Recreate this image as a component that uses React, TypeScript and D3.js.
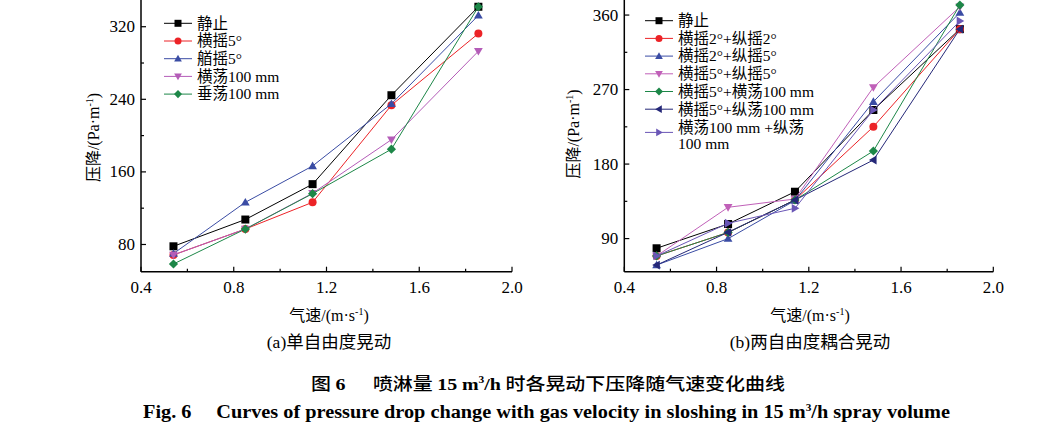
import React from "react";
import * as d3 from "d3";

// ---------- data ----------
const xVals = [0.54, 0.85, 1.14, 1.48, 1.855];

const leftNames = ["静止", "横摇5°", "艏摇5°", "横荡100 mm", "垂荡100 mm"];
const leftStill = [78, 107.5, 146.5, 244.5, 342];
const leftRoll5 = [68.5, 97, 126.5, 233.5, 312.5];
const leftYaw5 = [70, 126.5, 166.5, 235, 332.5];
const leftSway100 = [68.5, 97, 136.5, 195.5, 293];
const leftHeave100 = [58.5, 97, 136, 185, 342];

const rightNames = [
  "静止",
  "横摇2°+纵摇2°",
  "横摇2°+纵摇5°",
  "横摇5°+纵摇5°",
  "横摇5°+横荡100 mm",
  "横摇5°+纵荡100 mm",
  "横荡100 mm +纵荡|100 mm",
];
const rightStill = [78.3, 107.6, 146.6, 245.3, 343];
const rightR2P2 = [69, 97.4, 136.6, 225.1, 343];
const rightR2P5 = [58, 89.9, 136, 255.3, 363];
const rightR5P5 = [69, 127.8, 137.8, 272.7, 370];
const rightR5S100 = [69, 97.4, 136.6, 195.8, 372.1];
const rightR5Surge100 = [58, 97.6, 136.6, 184.9, 343];
const rightS100Surge100 = [69, 108.5, 126.6, 245.3, 352.8];

const xTicks = [0.4, 0.8, 1.2, 1.6, 2.0];
const xMinor = [0.6, 1.0, 1.4, 1.8];
const leftYTicks = [80, 160, 240, 320];
const leftYMinor = [120, 200, 280];
const rightYTicks = [90, 180, 270, 360];
const rightYMinor = [135, 225, 315];

// ---------- styles ----------
type Shape = "square" | "circle" | "up" | "down" | "diamond" | "left" | "right";
const leftStyles: { color: string; shape: Shape }[] = [
  { color: "#000000", shape: "square" },
  { color: "#ec2327", shape: "circle" },
  { color: "#3a4ca4", shape: "up" },
  { color: "#b45cb8", shape: "down" },
  { color: "#1d8748", shape: "diamond" },
];
const rightStyles: { color: string; shape: Shape }[] = [
  { color: "#000000", shape: "square" },
  { color: "#ec2327", shape: "circle" },
  { color: "#3a4ca4", shape: "up" },
  { color: "#c060b8", shape: "down" },
  { color: "#1d8748", shape: "diamond" },
  { color: "#252878", shape: "left" },
  { color: "#6a56b6", shape: "right" },
];

const SERIF = "'Liberation Serif', 'Times New Roman', serif";
const CJK = "'Noto Sans CJK SC', sans-serif";

function markerPath(shape: Shape, s: number): string {
  const h = s / 2;
  switch (shape) {
    case "square":
      return `M${-h},${-h}H${h}V${h}H${-h}Z`;
    case "circle":
      return `M${h},0A${h},${h} 0 1,1 ${-h},0A${h},${h} 0 1,1 ${h},0Z`;
    case "up":
      return `M0,${-h * 1.1}L${h * 1.1},${h * 0.8}L${-h * 1.1},${h * 0.8}Z`;
    case "down":
      return `M0,${h * 1.1}L${h * 1.1},${-h * 0.8}L${-h * 1.1},${-h * 0.8}Z`;
    case "left":
      return `M${-h * 1.1},0L${h * 0.8},${-h * 1.1}L${h * 0.8},${h * 1.1}Z`;
    case "right":
      return `M${h * 1.1},0L${-h * 0.8},${-h * 1.1}L${-h * 0.8},${h * 1.1}Z`;
    case "diamond":
      return `M0,${-h * 1.15}L${h * 1.15},0L0,${h * 1.15}L${-h * 1.15},0Z`;
  }
}

interface PanelProps {
  x0: number;
  x1: number;
  yDomain: [number, number];
  yTop: number;
  yTicks: number[];
  yMinor: number[];
  series: number[][];
  names: string[];
  styles: { color: string; shape: Shape }[];
  legendX: number;
  legendY: number;
  titleX: number;
  yTitleX: number;
  yTitleY: number;
  subtitle: string;
}

const axisY = 271.7;

function splitRuns(s: string) {
  const out: React.ReactNode[] = [];
  const re = /([\u4e00-\u9fff]+)|([^\u4e00-\u9fff]+)/g;
  let m: RegExpExecArray | null;
  let k = 0;
  while ((m = re.exec(s))) {
    if (m[1]) out.push(<tspan key={k++} fontFamily={CJK}>{m[1]}</tspan>);
    else out.push(<tspan key={k++} fontFamily={SERIF}>{m[2]}</tspan>);
  }
  return out;
}

function Panel(p: PanelProps) {
  const xs = d3.scaleLinear().domain([0.4, 2.0]).range([p.x0, p.x1]);
  const ys = d3.scaleLinear().domain(p.yDomain).range([axisY, p.yTop]);
  const line = d3
    .line<number>()
    .x((_, i) => xs(xVals[i]))
    .y((d) => ys(d));
  const rowStep = 17.7;
  return (
    <g>
      {p.series.map((s, si) => (
        <g key={si}>
          <path d={line(s) || ""} fill="none" stroke={p.styles[si].color} strokeWidth={1} />
          {s.map((v, i) => (
            <path
              key={i}
              d={markerPath(p.styles[si].shape, 8)}
              transform={`translate(${xs(xVals[i])},${ys(v)})`}
              fill={p.styles[si].color}
            />
          ))}
        </g>
      ))}
      <line x1={p.x0} x2={p.x0} y1={-5} y2={axisY} stroke="#000" strokeWidth={1.5} />
      <line x1={p.x0} x2={p.x1} y1={axisY} y2={axisY} stroke="#000" strokeWidth={1.5} />
      {xTicks.map((t) => (
        <g key={t}>
          <line x1={xs(t)} x2={xs(t)} y1={axisY} y2={axisY - 5} stroke="#000" strokeWidth={1.2} />
          <text x={xs(t)} y={292.5} textAnchor="middle" fontFamily={SERIF} fontSize={17}>
            {t.toFixed(1)}
          </text>
        </g>
      ))}
      {xMinor.map((t) => (
        <line key={t} x1={xs(t)} x2={xs(t)} y1={axisY} y2={axisY - 3} stroke="#000" strokeWidth={1.2} />
      ))}
      {p.yTicks.map((t) => (
        <g key={t}>
          <line x1={p.x0} x2={p.x0 + 5} y1={ys(t)} y2={ys(t)} stroke="#000" strokeWidth={1.2} />
          <text x={p.x0 - 6} y={ys(t) + 5.5} textAnchor="end" fontFamily={SERIF} fontSize={17}>
            {t}
          </text>
        </g>
      ))}
      {p.yMinor.map((t) => (
        <line key={t} x1={p.x0} x2={p.x0 + 3} y1={ys(t)} y2={ys(t)} stroke="#000" strokeWidth={1.2} />
      ))}
      <text
        transform={`translate(${p.yTitleX},${p.yTitleY}) rotate(-90)`}
        textAnchor="middle"
        fontSize={16}
        fontFamily={SERIF}
      >
        <tspan fontFamily={CJK}>压降</tspan>
        <tspan>/(Pa·m</tspan>
        <tspan fontSize={10} dy={-6}>-1</tspan>
        <tspan dy={6}>)</tspan>
      </text>
      <text x={p.titleX} y={321} textAnchor="middle" fontSize={16} fontFamily={SERIF}>
        <tspan fontFamily={CJK}>气速</tspan>
        <tspan>/(m·s</tspan>
        <tspan fontSize={10} dy={-6}>-1</tspan>
        <tspan dy={6}>)</tspan>
      </text>
      <text x={p.titleX} y={348} textAnchor="middle" fontSize={17.5} fontFamily={SERIF}>
        {p.subtitle.slice(0, 3)}
        <tspan fontFamily={CJK}>{p.subtitle.slice(3)}</tspan>
      </text>
      {p.names.map((n, i) => {
        const parts = n.split("|");
        const y = p.legendY + i * rowStep + (parts.length > 1 ? 5.5 : 0);
        const st = p.styles[i];
        return (
          <g key={n}>
            <line x1={p.legendX} x2={p.legendX + 28} y1={y} y2={y} stroke={st.color} strokeWidth={1} />
            <path d={markerPath(st.shape, 7)} transform={`translate(${p.legendX + 14},${y})`} fill={st.color} />
            {parts.map((pt, k) => (
              <text
                key={k}
                x={p.legendX + 33}
                y={y + 5.3 + (parts.length > 1 ? (k === 0 ? -4.8 : 11.5) : 0)}
                fontSize={15.5}
                fontFamily={SERIF}
              >
                {splitRuns(pt)}
              </text>
            ))}
          </g>
        );
      })}
    </g>
  );
}

export default function App() {
  return (
    <svg
      width={1044}
      height={439}
      style={{ position: "absolute", left: 0, top: 0, background: "#fff" }}
    >
      <rect x={0} y={0} width={1044} height={439} fill="#fff" />
      <Panel
        x0={141}
        x1={512}
        yDomain={[50, 350]}
        yTop={-0.5}
        yTicks={leftYTicks}
        yMinor={leftYMinor}
        series={[leftStill, leftRoll5, leftYaw5, leftSway100, leftHeave100]}
        names={leftNames}
        styles={leftStyles}
        legendX={164}
        legendY={23.3}
        titleX={329}
        yTitleX={99}
        yTitleY={137.5}
        subtitle="(a)单自由度晃动"
      />
      <Panel
        x0={624.3}
        x1={993.3}
        yDomain={[50, 380]}
        yTop={-1.5}
        yTicks={rightYTicks}
        yMinor={rightYMinor}
        series={[rightStill, rightR2P2, rightR2P5, rightR5P5, rightR5S100, rightR5Surge100, rightS100Surge100]}
        names={rightNames}
        styles={rightStyles}
        legendX={645}
        legendY={20.7}
        titleX={810}
        yTitleX={579}
        yTitleY={134}
        subtitle="(b)两自由度耦合晃动"
      />
      <text x={311} y={390} fontSize={17.5} fontWeight="bold" fontFamily={SERIF} textLength={474} lengthAdjust="spacingAndGlyphs">
        <tspan fontFamily={CJK} fontWeight={500}>图</tspan>
        <tspan dx={4}>6</tspan>
        <tspan dx={24} fontFamily={CJK} fontWeight={500}>喷淋量</tspan>
        <tspan dx={4}>15</tspan>
        <tspan dx={4}>m</tspan>
        <tspan fontSize={10} dy={-7}>3</tspan>
        <tspan dy={7}>/h</tspan>
        <tspan dx={4} fontFamily={CJK} fontWeight={500}>时各晃动下压降随气速变化曲线</tspan>
      </text>
      <text x={143} y={418} fontSize={18} fontWeight="bold" fontFamily={SERIF} textLength={807} lengthAdjust="spacingAndGlyphs">
        <tspan>Fig. 6</tspan>
        <tspan dx={22}>Curves of pressure drop change with gas velocity in sloshing in 15 m</tspan>
        <tspan fontSize={10} dy={-7}>3</tspan>
        <tspan dy={7}>/h spray volume</tspan>
      </text>
    </svg>
  );
}
